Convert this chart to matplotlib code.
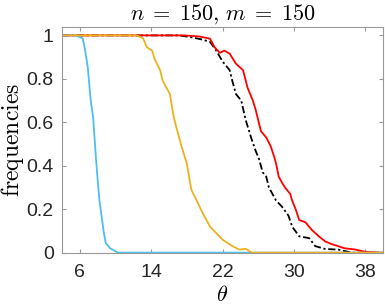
import matplotlib
matplotlib.use("Agg")
import matplotlib.pyplot as plt
import numpy as np

plt.rcParams['mathtext.fontset'] = 'cm'
plt.rcParams['font.family'] = ['Liberation Sans', 'DejaVu Sans']

# theta values and frequencies for each curve
blue_t = [4, 5.0, 5.56, 6.33, 6.6, 6.89, 7.22, 7.5, 7.78, 7.97, 8.2, 8.5, 8.7, 8.9, 9.4, 10.3, 40]
blue_f = [1, 1.0, 1.0, 0.986, 0.93, 0.853, 0.70, 0.62, 0.45, 0.35, 0.24, 0.15, 0.09, 0.045, 0.02, 0.0, 0.0]

yel_t = [4, 12.4, 13.1, 13.5, 14.1, 14.4, 15.0, 15.3, 15.7, 16.1, 16.5, 16.8, 17.0, 17.4, 18.0,
         18.5, 19.1, 19.8, 20.6, 21.3, 22.0, 23.1, 23.9, 24.6, 25.3, 40]
yel_f = [1, 1.0, 0.986, 0.946, 0.93, 0.89, 0.84, 0.79, 0.76, 0.73, 0.63, 0.58, 0.55, 0.49, 0.41,
         0.29, 0.24, 0.18, 0.12, 0.09, 0.06, 0.03, 0.014, 0.018, 0.0, 0.0]

blk_t = [4, 17.2, 18.7, 19.8, 20.6, 21.3, 22.0, 22.2, 22.8, 23.1, 23.5, 24.1, 24.6, 25.2, 25.7,
         26.1, 26.5, 26.9, 27.2, 28.0, 28.7, 29.4, 29.8, 30.6, 31.7, 32.4, 33.5, 35.0, 36.5, 40]
blk_f = [1, 1.0, 0.99, 0.98, 0.97, 0.93, 0.88, 0.87, 0.84, 0.79, 0.73, 0.70, 0.61, 0.53, 0.47,
         0.43, 0.37, 0.35, 0.30, 0.24, 0.21, 0.17, 0.12, 0.075, 0.067, 0.03, 0.017, 0.014, 0.0, 0.0]

red_t = [4, 17.7, 19.4, 20.6, 21.1, 21.7, 22.2, 22.8, 23.5, 24.3, 24.8, 25.4, 25.7, 26.3, 26.9,
         27.4, 27.8, 28.0, 28.3, 28.7, 29.0, 29.6, 29.8, 30.2, 30.6, 31.3, 32.0, 32.8, 33.5, 34.2,
         35.7, 36.8, 37.9, 39.4, 40]
red_f = [1, 1.0, 0.995, 0.985, 0.946, 0.92, 0.93, 0.916, 0.87, 0.84, 0.76, 0.70, 0.66, 0.56, 0.53,
         0.49, 0.44, 0.41, 0.35, 0.32, 0.30, 0.27, 0.24, 0.20, 0.15, 0.14, 0.105, 0.075, 0.052, 0.04,
         0.02, 0.015, 0.005, 0.0, 0.0]

xticks = [6, 14, 22, 30, 38]
yticks = [0, 0.2, 0.4, 0.6, 0.8, 1]
ylabels = ['0', '0.2', '0.4', '0.6', '0.8', '1']

fig = plt.figure(figsize=(3.85, 3.07), dpi=100)
ax = fig.add_axes([0.161, 0.177, 0.834, 0.736])

ax.plot(blk_t, blk_f, color='k', ls=(0, (4, 1.5, 1.2, 1.5)), lw=1.3)
ax.plot(red_t, red_f, color='#ff0000', lw=1.3)
ax.plot(blue_t, blue_f, color='#4dbeee', lw=1.3)
ax.plot(yel_t, yel_f, color='#edb120', lw=1.3)

ax.set_xlim(4, 40)
ax.set_ylim(0, 1.04)
ax.set_xticks(xticks)
ax.set_yticks(yticks)
ax.set_yticklabels(ylabels)
ax.tick_params(direction='in', top=True, right=True, labelsize=14, length=3,
               color='0.6', labelcolor='0.15')
ax.tick_params(axis='x', pad=8)
ax.tick_params(axis='y', pad=6)
for s in ax.spines.values():
    s.set_color('0.6')
    s.set_linewidth(0.8)

ax.set_title(r'$n\;=\;150,\,m\;=\;150$', fontsize=16, pad=5)
ax.set_xlabel(r'$\theta$', fontsize=16, labelpad=3)
ax.set_ylabel(r'$\mathrm{frequencies}$', fontsize=17, labelpad=0)

fig.savefig('out.png', dpi=100)
